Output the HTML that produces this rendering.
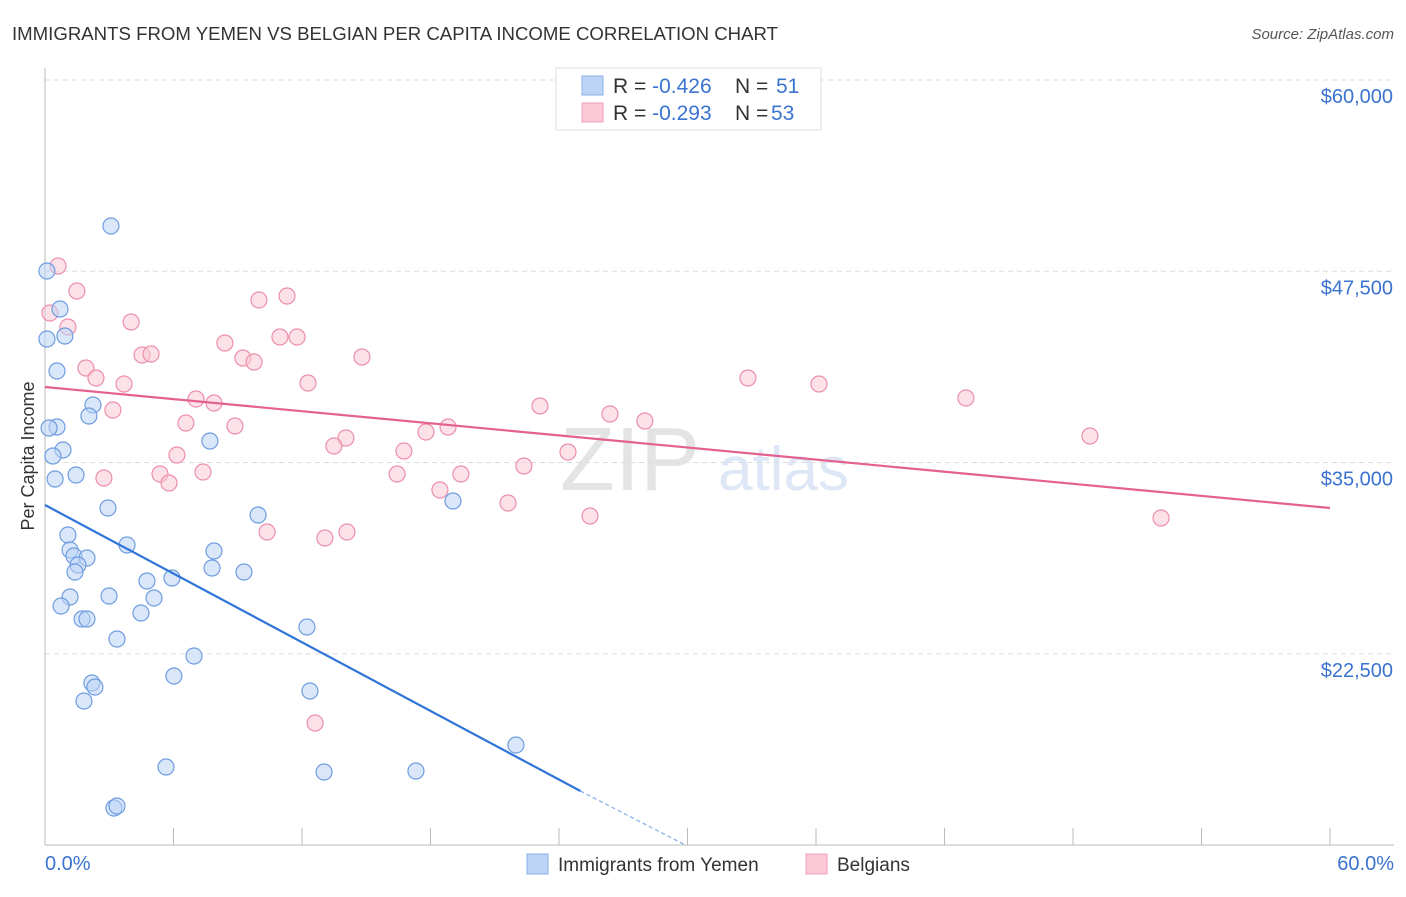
<!DOCTYPE html>
<html><head><meta charset="utf-8"><style>
body{margin:0;background:#fff;font-family:"Liberation Sans",sans-serif}
svg text{font-family:"Liberation Sans",sans-serif}
</style></head><body>
<svg id="chart" width="1406" height="892">
<text x="12" y="40" font-size="18" fill="#333" textLength="766" lengthAdjust="spacingAndGlyphs">IMMIGRANTS FROM YEMEN VS BELGIAN PER CAPITA INCOME CORRELATION CHART</text>
<text x="1394" y="39" font-size="15" fill="#555" font-style="italic" text-anchor="end">Source: ZipAtlas.com</text>
<text x="560" y="490" font-size="90" fill="#e4e4e4" font-family="Liberation Serif">ZIP</text>
<text x="718" y="490" font-size="62" fill="#dde7f5">atlas</text>
<text transform="translate(34,456) rotate(-90)" font-size="18" fill="#333" text-anchor="middle">Per Capita Income</text>
<g id="grid"></g><g id="axes"></g><g id="marks"></g>
<g>
<rect x="556" y="68" width="265" height="62" fill="#fff" stroke="#ddd"/>
<rect x="582" y="76" width="21" height="19" fill="#bcd4f5" stroke="#8ab0e8"/>
<rect x="582" y="103" width="21" height="19" fill="#fac8d6" stroke="#ef9fb6"/>
<text x="613" y="93" font-size="21" fill="#333">R = <tspan fill="#3b73d1">-0.426</tspan><tspan x="735">N = </tspan><tspan x="776" fill="#3b73d1">51</tspan></text>
<text x="613" y="120" font-size="21" fill="#333">R = <tspan fill="#3b73d1">-0.293</tspan><tspan x="735">N = </tspan><tspan x="771" fill="#3b73d1">53</tspan></text>
</g>
<g>
<rect x="527" y="854" width="21" height="20" fill="#bcd4f5" stroke="#8ab0e8"/>
<text x="558" y="871" font-size="19" fill="#333">Immigrants from Yemen</text>
<rect x="806" y="854" width="21" height="20" fill="#fac8d6" stroke="#ef9fb6"/>
<text x="837" y="871" font-size="19" fill="#333">Belgians</text>
</g>
</svg>
<script>
const blueX=[3.08,0.09,0.70,0.09,0.93,0.56,2.24,2.05,0.56,0.19,0.84,0.37,1.45,0.47,7.70,2.94,9.95,19.05,1.07,3.83,1.17,1.35,1.96,1.54,1.40,7.89,7.80,9.29,5.93,4.76,1.17,2.99,5.09,0.75,4.48,1.73,1.96,12.23,3.36,6.96,6.02,2.19,2.33,12.37,1.82,21.99,5.65,13.03,17.32,3.22,3.36];
const blueY=[50457,47516,45033,43072,43268,40980,38758,38039,37320,37255,35817,35425,34183,33921,36405,32026,31568,32483,30261,29607,29281,28889,28758,28300,27843,29215,28104,27843,27451,27255,26209,26275,26144,25621,25163,24771,24771,24248,23464,22353,21046,20588,20327,20066,19412,16536,15098,14771,14836,12418,12549];
const pinkX=[0.61,1.49,9.99,11.30,1.07,4.02,8.40,10.97,11.77,4.53,4.95,9.24,9.76,14.80,1.91,2.38,3.69,12.28,32.82,36.14,7.05,7.89,23.11,43.00,3.17,6.58,8.87,17.79,18.82,26.38,28.01,14.05,13.49,16.76,24.42,48.79,6.16,7.38,5.37,5.79,2.75,16.44,19.42,22.36,18.44,21.62,25.45,52.11,10.37,14.10,13.07,12.61,0.23];
const pinkY=[47843,46209,45621,45882,43856,44183,42810,43203,43203,42026,42091,41830,41569,41895,41176,40523,40131,40196,40523,40131,39150,38889,38693,39216,38431,37582,37386,36993,37320,38170,37712,36601,36078,35752,35686,36732,35490,34379,34248,33660,33987,34248,34248,34771,33203,32353,31503,31372,30458,30458,30065,17974,44771];
const yTicks=[60000,47500,35000,22500];
const yTickLabels=["$60,000","$47,500","$35,000","$22,500"];
const xTicks=[0,6,12,18,24,30,36,42,48,54,60];
const xEndLabels=["0.0%","60.0%"];
const blueTrend=[[0,32222],[25.0,13529],[29.9,10000]];
const pinkTrend=[[0,39935],[60,32026]];

const NS="http://www.w3.org/2000/svg";
const sx=v=>45+v/60*1285, sy=v=>80+(60000-v)/50000*765;
function mk(tag,attrs,parent){const e=document.createElementNS(NS,tag);for(const k in attrs)e.setAttribute(k,attrs[k]);parent.appendChild(e);return e;}
const grid=document.getElementById('grid'),axes=document.getElementById('axes'),marks=document.getElementById('marks');
yTicks.forEach((t,i)=>{
 const l=mk('line',{x1:45,x2:1394,y1:sy(t),y2:sy(t),stroke:'#ddd','stroke-dasharray':'5,4'},grid);
 
 
 const tx=mk('text',{x:1393,y:sy(t)+23,'font-size':20,fill:'#3b73d1','text-anchor':'end'},axes);
 tx.textContent=yTickLabels[i];
 
 
});
const ax=mk('line',{x1:45,x2:1394,y1:845,y2:845,stroke:'#bbb'},axes);


const ay=mk('line',{x1:45,x2:45,y1:68,y2:845,stroke:'#bbb'},axes);


xTicks.forEach(t=>{const l=mk('line',{x1:sx(t),x2:sx(t),y1:828,y2:845,stroke:'#bbb'},axes);
 
 });
[[0,'start',45],[60,'end',1394]].forEach((p,i)=>{const tx=mk('text',{x:p[2],y:870,'font-size':20,fill:'#3b73d1','text-anchor':p[1]},axes);
 tx.textContent=xEndLabels[i];
 
 });
function pts(X,Y,fill,stroke,name){X.forEach((x,i)=>{const c=mk('circle',{cx:sx(x),cy:sy(Y[i]),r:8,fill:fill,'fill-opacity':0.55,stroke:stroke,'stroke-width':1.2},marks);
 
 });}
pts(pinkX,pinkY,'#fac8d6','#ec8fab','point-belgians');
pts(blueX,blueY,'#bcd4f5','#6f9de0','point-yemen');
let l=mk('line',{x1:sx(blueTrend[0][0]),y1:sy(blueTrend[0][1]),x2:sx(blueTrend[1][0]),y2:sy(blueTrend[1][1]),stroke:'#2f74d8','stroke-width':2.2},marks);


l=mk('line',{x1:sx(blueTrend[1][0]),y1:sy(blueTrend[1][1]),x2:sx(blueTrend[2][0]),y2:sy(blueTrend[2][1]),stroke:'#8ab0e8','stroke-width':1.3,'stroke-dasharray':'4,3'},marks);


l=mk('line',{x1:sx(pinkTrend[0][0]),y1:sy(pinkTrend[0][1]),x2:sx(pinkTrend[1][0]),y2:sy(pinkTrend[1][1]),stroke:'#e4618e','stroke-width':2.2},marks);


</script>
</body></html>
